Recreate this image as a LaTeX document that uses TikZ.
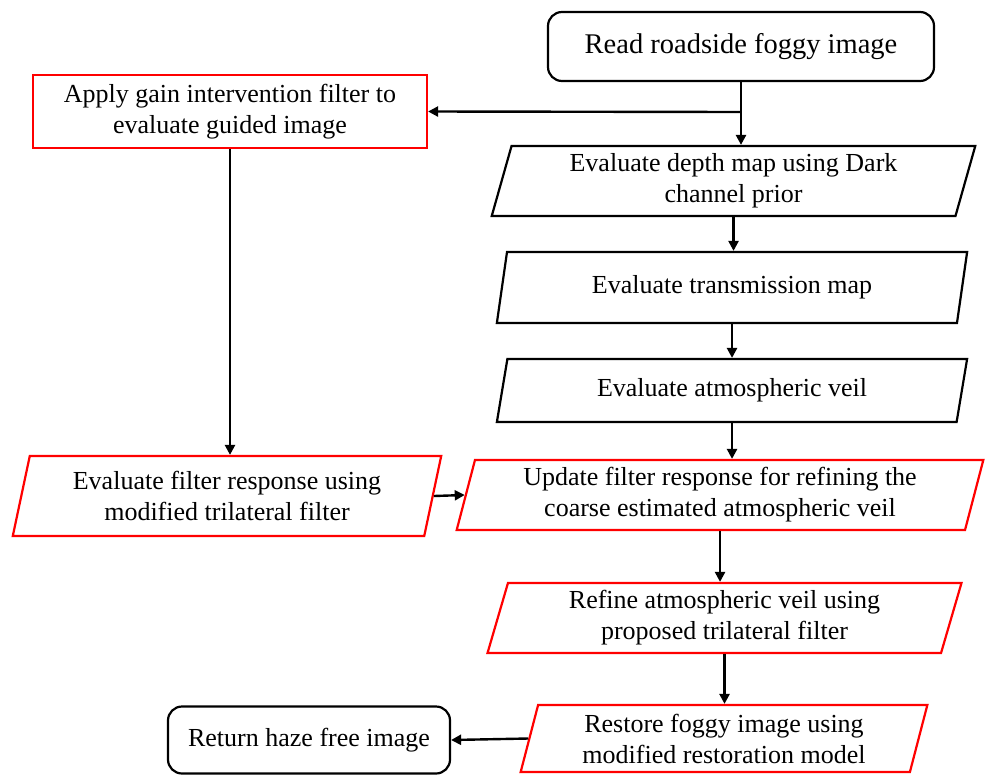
\documentclass[tikz,border=0pt]{standalone}
\usepackage{fontspec}
\setmainfont{Liberation Serif}
\usetikzlibrary{shapes.geometric,arrows.meta}
\definecolor{boxred}{RGB}{255,0,0}
\begin{document}
\begin{tikzpicture}[x=1pt,y=-1pt,
  every node/.style={font=\fontsize{26}{31}\selectfont, align=center, inner sep=0pt, line width=2.2pt},
  roundbox/.style={draw=black, rounded corners=14pt, rectangle},
  redbox/.style={draw=boxred, rectangle},
  para/.style={trapezium, trapezium left angle=75, trapezium right angle=105, trapezium stretches=true},
  blackpara/.style={para, draw=black},
  redpara/.style={para, draw=boxred},
  conn/.style={line width=2.4pt, -{Triangle[length=10pt,width=10pt]}}
]
\useasboundingbox (0,0) rectangle (987,774);
\node[roundbox, minimum width=386pt, minimum height=69pt, font=\fontsize{28.5}{34}\selectfont] (read) at (741,46.5) {Read roadside foggy image};
\node[redbox, minimum width=394pt, minimum height=73pt] (apply) at (230,111.5) {Apply gain intervention filter to\\evaluate guided image};
\node[blackpara, minimum width=485pt, minimum height=70pt] (depth) at (733.5,181) {Evaluate depth map using Dark\\channel prior};
\node[blackpara, minimum width=472pt, minimum height=71pt] (trans) at (732,287.5) {Evaluate transmission map};
\node[blackpara, minimum width=472pt, minimum height=63pt] (veil) at (732,390.5) {Evaluate atmospheric veil};
\node[redpara, minimum width=530pt, minimum height=70pt] (update) at (720,495) {Update filter response for refining the\\coarse estimated atmospheric veil};
\node[redpara, minimum width=430pt, minimum height=80pt] (leftf) at (227,496) {Evaluate filter response using\\modified trilateral filter};
\node[redpara, minimum width=475pt, minimum height=70pt] (refine) at (724.5,618) {Refine atmospheric veil using\\proposed trilateral filter};
\node[redpara, minimum width=408pt, minimum height=67pt] (restore) at (724,738.5) {Restore foggy image using\\modified restoration model};
\node[roundbox, minimum width=282pt, minimum height=67pt] (ret) at (309,740) {Return haze free image};

\coordinate (br) at (read.south |- 0,112);
\draw[line width=2.4pt] (read.south) -- (br);
\draw[conn] (br) -- (read.south |- depth.north);
\draw[conn] (br) -- (apply.east);
\draw[conn] (apply.south) -- (apply.south |- leftf.north);
\draw[conn] (depth.south) -- (depth.south |- trans.north);
\draw[conn] (trans.south) -- (trans.south |- veil.north);
\draw[conn] (veil.south) -- (veil.south |- update.north);
\draw[conn] (leftf.east) -- (update.west);
\draw[conn] (update.south) -- (update.south |- refine.north);
\draw[conn] (refine.south) -- (refine.south |- restore.north);
\draw[conn] (restore.west) -- (ret.east);
\end{tikzpicture}
\end{document}
